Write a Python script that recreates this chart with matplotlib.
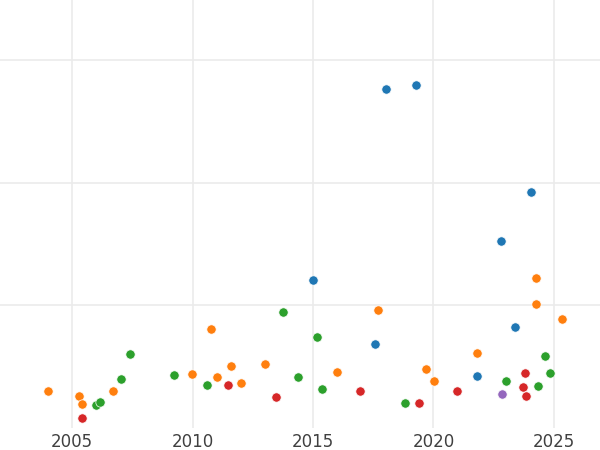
import matplotlib
matplotlib.use('Agg')
import matplotlib.pyplot as plt
import seaborn as sns

# Points per group (year, value)
blue_x = [2018.02, 2019.26, 2024.03, 2022.80, 2015.01, 2023.38, 2017.57, 2021.82]
blue_y = [2.761, 2.793, 1.920, 1.525, 1.202, 0.818, 0.684, 0.423]

orange_x = [2004.02, 2005.29, 2005.40, 2006.69, 2009.99, 2010.78, 2011.02, 2011.61, 2012.01,
            2013.01, 2016.00, 2017.68, 2019.68, 2020.03, 2021.82, 2024.27, 2024.27, 2025.33]
orange_y = [0.300, 0.255, 0.192, 0.300, 0.439, 0.807, 0.415, 0.502, 0.363,
            0.518, 0.451, 0.962, 0.480, 0.382, 0.611, 1.218, 1.008, 0.888]

green_x = [2006.00, 2006.17, 2007.02, 2007.41, 2009.24, 2010.61, 2013.74, 2014.39,
           2015.18, 2015.36, 2018.80, 2023.02, 2024.34, 2024.61, 2024.82]
green_y = [0.184, 0.211, 0.393, 0.600, 0.426, 0.347, 0.940, 0.410,
           0.741, 0.317, 0.202, 0.382, 0.341, 0.581, 0.442]

red_x = [2005.40, 2011.46, 2013.46, 2016.94, 2019.40, 2020.99, 2023.71, 2023.81, 2023.84]
red_y = [0.078, 0.347, 0.249, 0.300, 0.200, 0.296, 0.333, 0.447, 0.255]

purple_x = [2022.85]
purple_y = [0.271]

xticks = [2005, 2010, 2015, 2020, 2025]

sns.set_style('whitegrid')
fig = plt.figure(figsize=(6, 4.5), dpi=100)
ax = fig.add_axes([0, 0.05, 1, 0.95])

groups = [
    (blue_x, blue_y, 'tab:blue'),
    (orange_x, orange_y, 'tab:orange'),
    (green_x, green_y, 'tab:green'),
    (red_x, red_y, 'tab:red'),
    (purple_x, purple_y, 'tab:purple'),
]
for gx, gy, c in groups:
    ax.scatter(gx, gy, s=45, color=c, edgecolor='white', linewidth=0.5, zorder=3)

ax.set_xlim(2002.01, 2026.91)
ax.set_ylim(0, 3.49)
ax.set_xticks(xticks)
ax.set_yticks([1, 2, 3])
ax.set_yticklabels([])
ax.tick_params(axis='x', labelsize=12, colors='.25', pad=4, length=0)
ax.tick_params(axis='y', length=0)
ax.grid(True, color='.92', linewidth=1.2)
for s in ax.spines.values():
    s.set_visible(False)

fig.savefig('out.png', dpi=100)
